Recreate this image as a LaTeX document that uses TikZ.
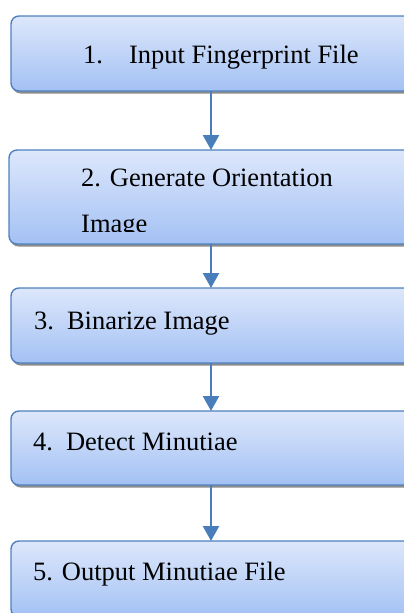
\documentclass[tikz,border=0pt]{standalone}
\usepackage{fontspec}
\setmainfont{Liberation Serif}
\usetikzlibrary{arrows.meta,shadows}
\definecolor{boxline}{HTML}{4F81BD}
\definecolor{boxtop}{HTML}{DDE7FB}
\definecolor{boxbot}{HTML}{A3C1F4}
\definecolor{arrowc}{HTML}{4A7EBB}
\tikzset{
  stepbox/.style={draw=boxline, line width=1.4pt, rounded corners=8pt,
    top color=boxtop, bottom color=boxbot, minimum width=419pt,
    inner sep=0pt, outer sep=0pt,
    drop shadow={shadow xshift=1.5pt, shadow yshift=-2.5pt, fill=black!45, opacity=1}},
  steptext/.style={anchor=base west, inner sep=0pt, font=\fontsize{26.5}{32}\selectfont},
  flow/.style={draw=arrowc, line width=2.4pt, -{Triangle[width=16pt,length=15pt]}, arrowc}
}
\begin{document}
\begin{tikzpicture}[x=1pt,y=1pt]
\useasboundingbox (0,0) rectangle (404,-613);
\clip (0,0) rectangle (404,-613);
\node[stepbox, minimum height=75pt] (b1) at (220.5,-53.5) {};
\node[stepbox, minimum height=94pt, minimum width=421pt] (b2) at (219.5,-197) {};
\node[stepbox, minimum height=75pt] (b3) at (220.5,-325.5) {};
\node[stepbox, minimum height=74pt] (b4) at (220.5,-448) {};
\node[stepbox, minimum height=76pt] (b5) at (220.5,-579) {};
\node[steptext] (t1) at (83,-63) {1.\hspace{26pt}Input Fingerprint File};
\node[steptext] (t2) at (81,-186) {2. Generate Orientation};
\begin{scope}
\clip (0,-150) rectangle (404,-231.5);
\node[steptext] (t2b) at (81,-232.5) {Image};
\end{scope}
\node[steptext] (t3) at (34,-329) {3.\hspace{13pt}Binarize Image};
\node[steptext] (t4) at (33,-450) {4.\hspace{13pt}Detect Minutiae};
\node[steptext] (t5) at (33,-580) {5. Output Minutiae File};
\coordinate (ax) at (211,0);
\draw[flow] (b1.south -| ax) -- (b2.north -| ax);
\draw[flow] (b2.south -| ax) -- (b3.north -| ax);
\draw[flow] (b3.south -| ax) -- (b4.north -| ax);
\draw[flow] (b4.south -| ax) -- (b5.north -| ax);
\end{tikzpicture}
\end{document}
